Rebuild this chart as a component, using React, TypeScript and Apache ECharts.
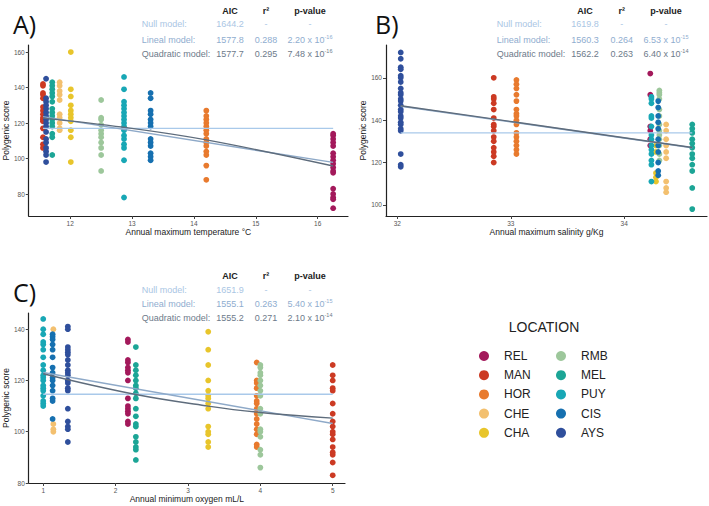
import React, { useEffect, useRef } from 'react';
import * as echarts from 'echarts';

const LOCATIONS = ['REL', 'MAN', 'HOR', 'CHE', 'CHA', 'RMB', 'MEL', 'PUY', 'CIS', 'AYS'];
const COLORS = ['#a3195b', '#cc3a23', '#e87a2e', '#f3c06f', '#e8c52b', '#9dc79b', '#1ca596', '#18a7b5', '#1670b0', '#2f4f9c'];

// Panel A: annual maximum temperature (°C) of each location, and its polygenic scores
const TEMP_X = [16.25, 11.56, 14.2, 11.83, 12.01, 12.5, 11.71, 12.87, 13.3, 11.61];
const TEMP_SCORES = [
  [114, 113, 111, 109, 107, 103, 101, 99, 97, 95, 93, 92, 83, 80, 78, 77, 72],
  [142, 141, 137, 136, 134, 129, 127, 125, 123, 122, 121, 117, 112, 108, 106],
  [127, 124, 122, 120, 118, 116, 114, 111, 109, 107, 104, 102, 96, 88],
  [143, 141, 138, 136, 133, 125, 123, 120, 117, 116],
  [160, 139, 135, 130, 127, 125, 123, 121, 116, 112, 98],
  [133, 123, 122, 119, 116, 114, 112, 109, 106, 102, 93],
  [143, 141, 139, 137, 135, 132, 128, 126, 124, 122, 120, 118, 114, 112, 102],
  [146, 139, 132, 130, 128, 126, 124, 122, 120, 118, 116, 113, 111, 108, 106, 99, 78],
  [137, 134, 127, 125, 122, 120, 118, 111, 109, 107, 103, 101, 99],
  [145, 134, 132, 130, 128, 126, 124, 122, 120, 118, 115, 111, 109, 106, 104, 102, 98],
];
const TEMP_NULL = [[11.56, 117], [16.25, 117]];
const TEMP_LINEAL = [[11.56, 123.6], [16.25, 97.8]];
const TEMP_QUAD = [[11.56, 122.8], [12.87, 117.6], [14.2, 110.5], [16.25, 95.8]];

// Panel B: annual maximum salinity (g/Kg)
const SAL_X = [34.23, 32.85, 33.05, 34.37, 34.28, 34.31, 34.6, 34.24, 34.3, 32.03];
const SAL_SCORES = [
  [162, 152, 137, 135, 131, 128],
  [160, 151, 150, 148, 145, 141, 138, 137, 135, 132, 130, 127, 125, 123, 120],
  [159, 157, 155, 152, 149, 145, 143, 142, 140, 138, 134, 132, 130, 128, 126, 124],
  [138, 135, 131, 128, 125, 122, 111, 108, 106],
  [128, 125, 115, 113, 111],
  [154, 153, 152, 150, 145, 142, 138, 135, 133, 131, 128, 124, 121],
  [138, 136, 134, 131, 129, 127, 124, 122, 119, 116, 108, 98],
  [151, 150, 148, 142, 141, 137, 133, 131, 128, 126, 124, 121, 119, 111],
  [149, 146, 142, 139, 136, 131, 128, 125, 120, 116, 114],
  [172, 169, 165, 164, 161, 160, 158, 155, 153, 152, 150, 149, 147, 145, 144, 142, 141, 139, 138, 136, 135, 124, 119, 118],
];
const SAL_NULL = [[32.03, 134], [34.6, 134]];
const SAL_LINEAL = [[32.03, 146.6], [34.6, 127]];
const SAL_QUAD = [[32.03, 146.8], [33.05, 139.0], [34.6, 127.1]];

// Panel C: annual minimum oxygen (mL/L)
const OXY_X = [2.17, 5.0, 3.95, 1.14, 3.28, 4.0, 2.28, 1.0, 1.13, 1.34];
const OXY_SCORES = [
  [136, 135, 128, 127, 125, 124, 123, 120, 113, 110, 109, 108, 107, 104, 103],
  [126, 122, 120, 117, 116, 111, 107, 104, 102, 100, 99, 97, 94, 92, 91, 88, 83],
  [127, 120, 119, 117, 114, 112, 111, 109, 107, 105, 103, 101, 99, 95, 94],
  [140, 103, 101, 100],
  [139, 132, 126, 120, 116, 114, 113, 111, 109, 102, 100, 99, 96, 94],
  [126, 125, 123, 122, 120, 118, 116, 114, 109, 107, 101, 100, 98, 93, 91, 86],
  [133, 126, 124, 122, 120, 118, 117, 115, 113, 109, 106, 103, 102, 98, 96, 94, 93, 89],
  [144, 140, 138, 135, 134, 132, 129, 126, 124, 122, 121, 120, 118, 117, 116, 114, 112, 111, 110],
  [138, 137, 136, 134, 132, 129, 125, 123, 121, 120, 118, 116, 113, 112, 105],
  [141, 140, 133, 132, 131, 130, 128, 126, 124, 123, 122, 120, 119, 117, 116, 109, 104, 102, 101, 96],
];
const OXY_NULL = [[1.0, 114.6], [5.0, 114.6]];
const OXY_LINEAL = [[1.0, 123.1], [5.0, 103.2]];
const OXY_QUAD = [[1.0, 122.6], [2.28, 114.5], [3.28, 110.0], [4.0, 107.5], [5.0, 105.3]];

// Tick labels
const TEMP_TICKS = [12, 13, 14, 15, 16];
const SAL_TICKS = [32, 33, 34];
const OXY_TICKS = [1, 2, 3, 4, 5];
const SCORE_TICKS_A = [80, 100, 120, 140, 160];
const SCORE_TICKS_B = [100, 120, 140, 160];
const SCORE_TICKS_C = [80, 100, 120, 140];

// Model tables
const MODEL_NAMES = ['Null model:', 'Lineal model:', 'Quadratic model:'];
const TABLE_HEADERS = ['AIC', 'r²', 'p-value'];
const A_AIC = ['1644.2', '1577.8', '1577.7'];
const A_R2 = ['-', '0.288', '0.295'];
const A_P = [['-', ''], ['2.20 x 10', '-16'], ['7.48 x 10', '-16']];
const B_AIC = ['1619.8', '1560.3', '1562.2'];
const B_R2 = ['-', '0.264', '0.263'];
const B_P = [['-', ''], ['6.53 x 10', '-15'], ['6.40 x 10', '-14']];
const C_AIC = ['1651.9', '1555.1', '1555.2'];
const C_R2 = ['-', '0.263', '0.271'];
const C_P = [['-', ''], ['5.40 x 10', '-15'], ['2.10 x 10', '-14']];

const FONT = '"Liberation Sans", Arial, sans-serif';
const ROW_COLORS = ['#aac6e4', '#8fadcf', '#6d7a8a'];
const LINE_COLORS = ['#a9c9ea', '#8ea9c8', '#5e6c7c'];

function buildTable(
  labelX: number, cols: number[], headerY: number, rowYs: number[],
  aic: string[], r2: string[], p: string[][]
) {
  const els: any[] = [];
  TABLE_HEADERS.forEach((h, i) => {
    els.push({
      type: 'text', x: cols[i], y: headerY,
      style: { text: h, fontFamily: FONT, fontSize: 9, fontWeight: 'bold', fill: '#222', align: 'center', verticalAlign: 'middle' },
    });
  });
  MODEL_NAMES.forEach((m, r) => {
    const fill = ROW_COLORS[r];
    const y = rowYs[r];
    els.push({ type: 'text', x: labelX, y, style: { text: m, fontFamily: FONT, fontSize: 9, fill, align: 'left', verticalAlign: 'middle' } });
    els.push({ type: 'text', x: cols[0], y, style: { text: aic[r], fontFamily: FONT, fontSize: 9, fill, align: 'center', verticalAlign: 'middle' } });
    els.push({ type: 'text', x: cols[1], y, style: { text: r2[r], fontFamily: FONT, fontSize: 9, fill, align: 'center', verticalAlign: 'middle' } });
    const txt = p[r][1] ? `{b|${p[r][0]}}{s|${p[r][1]}}` : `{b|${p[r][0]}}`;
    els.push({
      type: 'text', x: cols[2], y,
      style: {
        text: txt, align: 'center', verticalAlign: 'middle',
        rich: {
          b: { fontFamily: FONT, fontSize: 9, fill, lineHeight: 12 },
          s: { fontFamily: FONT, fontSize: 5.5, fill, lineHeight: 6, verticalAlign: 'top' },
        },
      },
    });
  });
  return els;
}

function makeAxisX(gridIndex: number, min: number, max: number, ticks: number[], name: string) {
  return {
    type: 'value', gridIndex, min, max, name, nameLocation: 'middle', nameGap: 11,
    nameTextStyle: { fontFamily: FONT, fontSize: 8.5, color: '#1a1a1a' },
    axisLine: { show: true, onZero: false, lineStyle: { color: '#222', width: 1.2 } },
    axisTick: { show: true, length: 3, customValues: ticks, lineStyle: { color: '#444' } },
    axisLabel: { customValues: ticks, fontFamily: FONT, fontSize: 6.5, color: '#555', margin: 4 },
    splitLine: { show: false },
  };
}
function makeAxisY(gridIndex: number, min: number, max: number, ticks: number[]) {
  return {
    type: 'value', gridIndex, min, max, name: 'Polygenic score', nameLocation: 'middle', nameGap: 18,
    nameTextStyle: { fontFamily: FONT, fontSize: 8.5, color: '#1a1a1a' },
    axisLine: { show: true, onZero: false, lineStyle: { color: '#222', width: 1.2 } },
    axisTick: { show: true, length: 3, customValues: ticks, lineStyle: { color: '#444' } },
    axisLabel: { customValues: ticks, fontFamily: FONT, fontSize: 6.5, color: '#555', margin: 4 },
    splitLine: { show: false },
  };
}

export default function App() {
  const ref = useRef<HTMLDivElement>(null);
  useEffect(() => {
    if (!ref.current) return;
    const chart = echarts.init(ref.current, undefined, { renderer: 'svg' });
    const series: any[] = [];
    const panels = [
      { xs: TEMP_X, scores: TEMP_SCORES, lines: [TEMP_NULL, TEMP_LINEAL, TEMP_QUAD] },
      { xs: SAL_X, scores: SAL_SCORES, lines: [SAL_NULL, SAL_LINEAL, SAL_QUAD] },
      { xs: OXY_X, scores: OXY_SCORES, lines: [OXY_NULL, OXY_LINEAL, OXY_QUAD] },
    ];
    panels.forEach((p, pi) => {
      LOCATIONS.forEach((loc, li) => {
        series.push({
          type: 'scatter', name: loc, xAxisIndex: pi, yAxisIndex: pi,
          symbolSize: 5.8, itemStyle: { color: COLORS[li], opacity: 1 },
          data: p.scores[li].map((v) => [p.xs[li], v]),
          z: 2,
        });
      });
      p.lines.forEach((ln, k) => {
        series.push({
          type: 'line', name: ['Null model', 'Lineal model', 'Quadratic model'][k] + ' ' + pi,
          xAxisIndex: pi, yAxisIndex: pi, data: ln, smooth: k === 2 ? 0.4 : false,
          showSymbol: false, symbol: 'none',
          lineStyle: { color: LINE_COLORS[k], width: 1.4 }, z: 3 + k,
        });
      });
    });

    const graphic: any[] = [
      { type: 'text', x: 13, y: 24, style: { text: 'A)', fontFamily: '"Open Sans", sans-serif', fontSize: 25, fill: '#111', verticalAlign: 'middle' } },
      { type: 'text', x: 375, y: 24, style: { text: 'B)', fontFamily: '"Open Sans", sans-serif', fontSize: 25, fill: '#111', verticalAlign: 'middle' } },
      { type: 'text', x: 13, y: 292, style: { text: 'C)', fontFamily: '"Open Sans", sans-serif', fontSize: 25, fill: '#111', verticalAlign: 'middle' } },
      { type: 'text', x: 544, y: 327, style: { text: 'LOCATION', fontFamily: FONT, fontSize: 14, fill: '#222', align: 'center', verticalAlign: 'middle' } },
      ...buildTable(141.7, [230, 266, 310], 11, [24.3, 40, 54.3], A_AIC, A_R2, A_P),
      ...buildTable(496.7, [585, 621.7, 666], 11, [24.3, 40, 54.3], B_AIC, B_R2, B_P),
      ...buildTable(141.7, [230, 266, 310], 275.7, [290, 304.3, 318.3], C_AIC, C_R2, C_P),
    ];

    const legendCommon = {
      orient: 'vertical', icon: 'circle', itemWidth: 24, itemHeight: 10, itemGap: 7.2,
      selectedMode: false,
      textStyle: { fontFamily: FONT, fontSize: 12, color: '#222', padding: [0, 0, 0, 3] },
    };

    chart.setOption({
      animation: false,
      backgroundColor: '#ffffff',
      grid: [
        { left: 26, top: 45, width: 322, height: 171 },
        { left: 386, top: 45, width: 321, height: 171 },
        { left: 26, top: 313, width: 319, height: 170 },
      ],
      xAxis: [
        makeAxisX(0, 11.33, 16.49, TEMP_TICKS, 'Annual maximum temperature °C'),
        makeAxisX(1, 31.9, 34.73, SAL_TICKS, 'Annual maximum salinity g/Kg'),
        makeAxisX(2, 0.8, 5.17, OXY_TICKS, 'Annual minimum oxygen mL/L'),
      ],
      yAxis: [
        makeAxisY(0, 67.6, 164, SCORE_TICKS_A),
        makeAxisY(1, 94.75, 175.5, SCORE_TICKS_B),
        makeAxisY(2, 80, 146.3, SCORE_TICKS_C),
      ],
      legend: [
        { ...legendCommon, left: 474, top: 345, data: LOCATIONS.slice(0, 5) },
        { ...legendCommon, left: 551, top: 345, data: LOCATIONS.slice(5) },
      ],
      graphic,
      series,
    });
    return () => chart.dispose();
  }, []);
  return (
    <div
      ref={ref}
      style={{ position: 'fixed', left: 0, top: 0, width: 709, height: 506, background: '#fff' }}
    />
  );
}
